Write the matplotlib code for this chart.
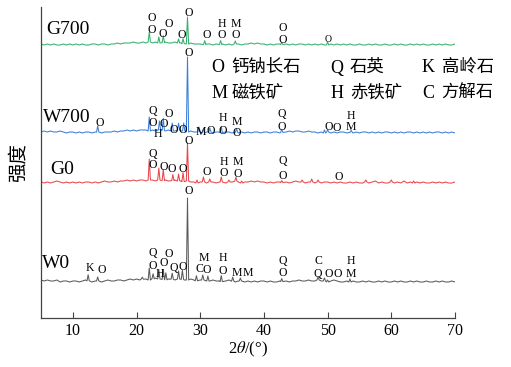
import numpy as np
import matplotlib.pyplot as plt

plt.rcParams['font.family'] = ['Liberation Serif', 'Noto Sans CJK SC']
plt.rcParams['mathtext.fontset'] = 'stix'

# 2theta grid for baselines (0.5 deg step, 5..70)
two_theta = np.arange(5, 70.01, 0.5)

# baselines (pixel heights above each offset)
w0_base = [2, 1, 2, 1, 1, 2, 0, 1, 1, 0, 1,
           1, 0, 1, 2, 1, 0, 1, 1, 0, 1, 2,
           1, 1, 2, 2, 1, 2, 3, 2, 3, 2, 3,
           3, 2, 3, 4, 3, 3, 2, 3, 3, 2, 3,
           3, 2, 2, 3, 2, 1, 2, 2, 1, 1, 2,
           1, 1, 0, 1, 2, 1, 0, 1, 1, 0, 1,
           0, 1, 0, 1, 1, 0, 1, 0, 0, 1, 0,
           1, 0, 1, 1, 2, 1, 1, 2, 1, 1, 2,
           1, 1, 0, 1, 2, 1, 0, 0, 1, 0, 1,
           0, 0, 1, 0, 1, 0, 0, 1, 0, 1, 0,
           0, 1, 0, 1, 0, 0, 1, 0, 1, 0, 0,
           1, 0, 0, 1, 0, 1, 0, 0, 1, 0]
g0_base = [1, 0, 1, 0, 1, 2, 1, 0, 1, 0, 1,
           0, 1, 0, 1, 1, 0, 1, 0, 1, 2, 1,
           1, 2, 1, 2, 2, 3, 2, 3, 2, 3, 3,
           2, 3, 3, 2, 3, 2, 3, 2, 2, 3, 2,
           2, 1, 2, 1, 1, 0, 1, 1, 0, 1, 1,
           0, 1, 1, 0, 1, 1, 2, 1, 0, 1, 1,
           2, 1, 2, 1, 1, 0, 1, 0, 1, 1, 0,
           1, 0, 1, 2, 1, 1, 0, 1, 1, 0, 1,
           0, 1, 1, 0, 1, 0, 1, 0, 0, 1, 0,
           1, 0, 0, 1, 0, 1, 2, 0, 1, 0, 0,
           1, 0, 1, 0, 2, 0, 1, 0, 1, 0, 1,
           0, 0, 1, 0, 1, 0, 1, 0, 0, 1]
w700_base = [1, 2, 1, 2, 1, 1, 2, 1, 0, 1, 1,
             0, 1, 0, 1, 1, 0, 1, 1, 0, 1, 1,
             1, 2, 1, 2, 2, 3, 2, 3, 2, 3, 3,
             3, 2, 3, 2, 3, 3, 2, 3, 2, 2, 3,
             2, 2, 1, 2, 1, 1, 1, 0, 1, 1, 0,
             1, 1, 0, 1, 1, 0, 1, 0, 1, 0, 1,
             0, 1, 1, 0, 1, 1, 0, 1, 1, 0, 1,
             1, 2, 1, 2, 2, 1, 1, 2, 1, 1, 0,
             1, 0, 1, 0, 1, 0, 1, 1, 0, 1, 0,
             1, 0, 1, 1, 0, 1, 0, 1, 0, 1, 1,
             0, 1, 0, 1, 0, 1, 1, 0, 1, 0, 1,
             0, 1, 0, 1, 1, 0, 1, 0, 1, 0]
g700_base = [1, 0, 1, 0, 1, 0, 0, 1, 0, 1, 0,
             1, 0, 1, 0, 0, 1, 1, 0, 1, 1, 0,
             1, 1, 2, 1, 2, 2, 2, 3, 2, 2, 3,
             2, 3, 2, 3, 2, 2, 3, 2, 2, 3, 2,
             2, 1, 1, 2, 1, 1, 1, 0, 1, 1, 0,
             1, 0, 1, 0, 1, 0, 1, 1, 0, 1, 1,
             2, 1, 2, 1, 1, 0, 1, 0, 1, 1, 0,
             1, 0, 1, 0, 1, 1, 0, 1, 0, 1, 0,
             1, 0, 0, 1, 0, 1, 0, 1, 0, 1, 0,
             0, 1, 0, 0, 1, 0, 1, 0, 0, 1, 0,
             0, 1, 0, 1, 0, 0, 1, 0, 1, 0, 1,
             0, 0, 1, 0, 1, 0, 1, 0, 0, 1]

# peaks: (2theta, height)
w0_peaks = [(12.4, 6), (13.9, 4), (20.9, 2), (22.0, 12), (22.6, 5), (23.5, 9),
            (24.2, 10), (24.6, 7), (25.6, 6), (26.6, 8), (27.2, 9), (28.0, 82),
            (29.4, 5), (30.4, 5), (31.2, 5), (33.3, 6), (35.1, 4), (36.3, 3),
            (42.8, 3), (48.5, 3), (49.5, 3), (50.0, 2), (53.5, 3)]
g0_peaks = [(22.0, 21), (23.5, 12), (24.2, 11), (25.7, 6), (26.6, 7), (27.3, 9),
            (28.0, 38), (29.5, 3), (30.5, 5), (31.5, 3), (33.3, 5), (34.5, 2),
            (35.6, 4), (36.5, 2), (42.8, 2), (46.0, 2), (47.5, 3), (48.5, 2),
            (56.0, 2), (60.0, 2), (63.5, 2)]
w700_peaks = [(13.9, 6), (22.0, 14), (23.6, 9), (24.2, 12), (25.6, 8), (26.6, 7),
              (27.4, 8), (28.0, 75), (29.8, 5), (30.5, 4), (31.5, 4), (33.3, 6),
              (35.7, 4), (42.8, 3), (49.5, 3), (50.0, 2), (53.7, 2)]
g700_peaks = [(22.0, 10), (23.5, 6), (24.2, 7), (26.6, 4), (27.3, 5), (28.0, 27),
              (30.7, 4), (33.2, 4), (35.5, 3), (42.8, 2), (50.0, 3)]

names = ['W0', 'G0', 'W700', 'G700']
offsets = [36, 135, 185, 273]
colors = ['#5a5a5a', '#e8474c', '#3b7fd8', '#35b06e']
name_pos = [(5.2, 55), (6.4, 148), (5.3, 200), (5.8, 288)]

# phase marks (2theta, y, letter)
w0_marks = [(12.7, 50, 'K'), (14.6, 48, 'O'), (22.6, 65, 'Q'), (22.6, 52, 'O'),
            (23.7, 44, 'H'), (24.2, 55, 'O'), (25.1, 64, 'O'), (25.8, 50, 'Q'),
            (27.2, 51, 'O'), (28.2, 127, 'O'), (29.8, 49, 'C'), (30.6, 60, 'M'),
            (31.1, 48, 'O'), (33.5, 60, 'H'), (33.5, 47, 'O'), (35.8, 45, 'M'),
            (37.5, 45, 'M'), (43.0, 57, 'Q'), (43.0, 45, 'O'), (48.5, 57, 'C'),
            (48.5, 44, 'Q'), (50.1, 44, 'O'), (51.6, 44, 'O'), (53.7, 57, 'H'),
            (53.7, 44, 'M')]
g0_marks = [(22.6, 164, 'Q'), (22.6, 153, 'O'), (24.2, 151, 'O'), (25.6, 149, 'O'),
            (27.3, 149, 'O'), (28.2, 177, 'O'), (31.1, 146, 'O'), (33.7, 156, 'H'),
            (33.7, 145, 'O'), (35.9, 156, 'M'), (35.9, 144, 'O'), (43.0, 157, 'Q'),
            (43.0, 142, 'O'), (51.8, 141, 'O')]
w700_marks = [(14.3, 195, 'O'), (22.5, 207, 'Q'), (22.5, 195, 'O'), (23.4, 184, 'H'),
              (24.3, 194, 'O'), (25.0, 204, 'O'), (25.8, 188, 'O'), (27.3, 188, 'O'),
              (28.2, 265, 'O'), (30.1, 186, 'M'), (31.7, 187, 'O'), (33.6, 200, 'H'),
              (33.6, 187, 'O'), (35.8, 196, 'M'), (35.8, 185, 'O'), (42.8, 204, 'Q'),
              (42.8, 191, 'O'), (50.1, 191, 'O'), (51.5, 190, 'O'), (53.7, 202, 'H'),
              (53.7, 191, 'M')]
g700_marks = [(22.4, 300, 'O'), (22.4, 288, 'O'), (25.0, 294, 'O'), (24.1, 284, 'O'),
              (27.1, 283, 'O'), (28.2, 305, 'O'), (31.1, 283, 'O'), (33.4, 294, 'H'),
              (33.4, 283, 'O'), (35.6, 294, 'M'), (35.6, 283, 'O'), (43.0, 290, 'O'),
              (43.0, 278, 'O'), (50.1, 279, 'O')]

legend_items = [(31.8, 250, 'O', '钙钠长石'), (50.4, 250, 'Q', '石英'),
                (64.8, 250, 'K', '高岭石'), (31.8, 224, 'M', '磁铁矿'),
                (50.4, 224, 'H', '赤铁矿'), (64.8, 224, 'C', '方解石')]


def build(base, peaks, hw=0.18):
    pk = np.array([p for p, h in peaks])
    keep = [i for i, t in enumerate(two_theta) if np.min(np.abs(pk - t)) > hw + 0.05]
    xs = [float(two_theta[i]) for i in keep]
    ys = [float(base[i]) for i in keep]
    for pos, h in peaks:
        b = np.interp(pos, two_theta, base)
        xs += [pos - hw, pos, pos + hw]
        ys += [b, b + h, b]
    order = np.argsort(xs)
    return np.array(xs)[order], np.array(ys)[order]


fig = plt.figure(figsize=(5.11, 3.67), dpi=100)
ax = fig.add_axes([41 / 511, 49 / 367, 414 / 511, 311 / 367])

bases = [w0_base, g0_base, w700_base, g700_base]
peaks = [w0_peaks, g0_peaks, w700_peaks, g700_peaks]
marks = [w0_marks, g0_marks, w700_marks, g700_marks]

for i in range(4):
    x, y = build(bases[i], peaks[i])
    ax.plot(x, y + offsets[i], color=colors[i], lw=0.75)
    ax.text(name_pos[i][0], name_pos[i][1], names[i], fontsize=14,
            ha='left', va='center')
    for mx, my, m in marks[i]:
        fs = 7 if (i == 3 and mx > 49) else 8.5
        ax.text(mx, my, m, fontsize=fs, ha='center', va='center')

for lx, ly, letter, cn in legend_items:
    ax.text(lx, ly, letter, fontsize=13, ha='left', va='center')
    ax.text(lx + 3.1, ly, cn, fontsize=12.5, ha='left', va='center')

ax.set_xlim(5, 70)
ax.set_ylim(0, 311)
ax.set_xticks([10, 20, 30, 40, 50, 60, 70])
ax.tick_params(axis='x', direction='in', length=4, labelsize=11.5, color='#444444')
ax.set_yticks([])
ax.spines['top'].set_visible(False)
ax.spines['right'].set_visible(False)
for s in ['left', 'bottom']:
    ax.spines[s].set_color('#444444')
    ax.spines[s].set_linewidth(0.9)
ax.set_xlabel('2$\\theta$/(°)', fontsize=12, labelpad=1)
ax.set_ylabel('强度', fontsize=14, labelpad=10)

fig.savefig('out.png', dpi=100)
